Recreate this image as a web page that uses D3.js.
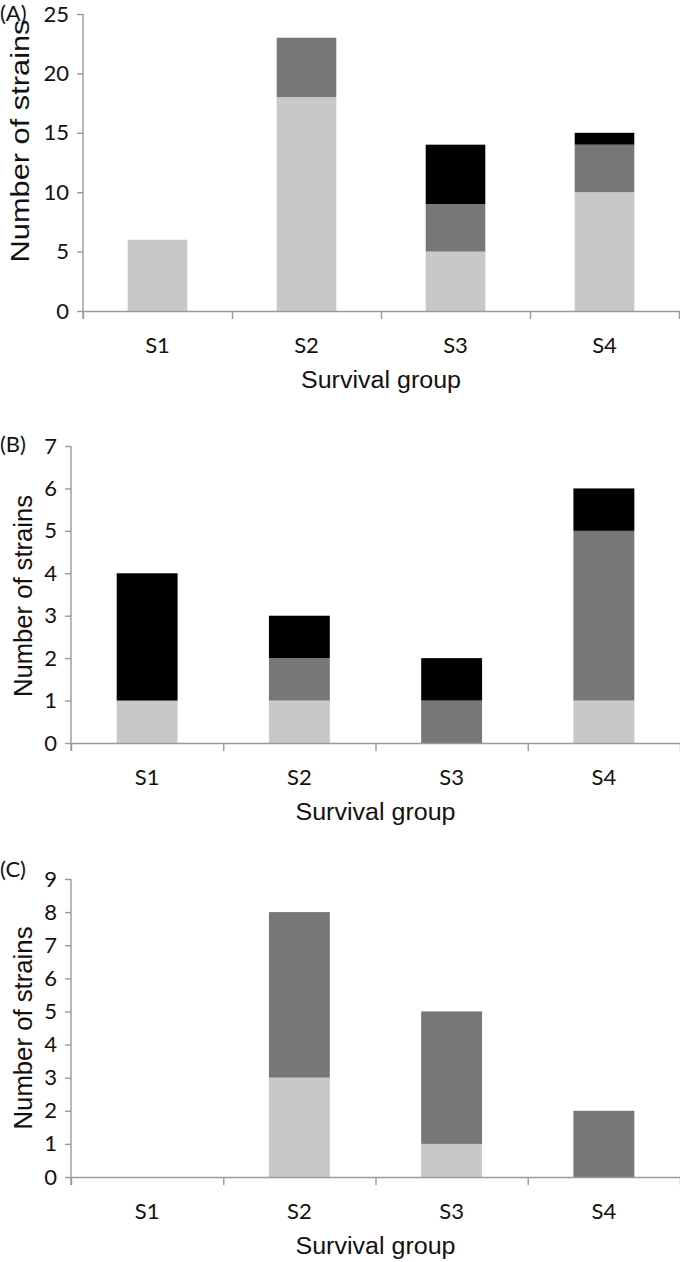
<!DOCTYPE html>
<html><head><meta charset="utf-8">
<script src="https://cdn.jsdelivr.net/npm/d3@7"></script>
<style>
html,body{margin:0;padding:0;background:#fff;}
svg{display:block;}
</style></head>
<body>
<svg id="chart" width="680" height="1262"></svg>
<script>
// ---- data ----
const categories = ["S1", "S2", "S3", "S4"];
const seriesKeys = ["light", "mid", "dark"];
const seriesColors = ["#c8c8c8", "#777777", "#000000"];

const panelA_light = [6, 18, 5, 10];
const panelA_mid   = [0, 5, 4, 4];
const panelA_dark  = [0, 0, 5, 1];
const panelA_ticks = [0, 5, 10, 15, 20, 25];

const panelB_light = [1, 1, 0, 1];
const panelB_mid   = [0, 1, 1, 4];
const panelB_dark  = [3, 1, 1, 1];
const panelB_ticks = [0, 1, 2, 3, 4, 5, 6, 7];

const panelC_light = [0, 3, 1, 0];
const panelC_mid   = [0, 5, 4, 2];
const panelC_dark  = [0, 0, 0, 0];
const panelC_ticks = [0, 1, 2, 3, 4, 5, 6, 7, 8, 9];

const xTitle = "Survival group";
const yTitle = "Number  of strains";

function rows(light, mid, dark) {
  return categories.map((c, i) => ({cat: c, light: light[i], mid: mid[i], dark: dark[i]}));
}

const panels = [
  {label: "(A)", data: rows(panelA_light, panelA_mid, panelA_dark), ticks: panelA_ticks,
   x0: 83, x1: 679, yTop: 14, yBot: 311, labelY: 21, yTitleX: 29, yTitleC: 141, yTitleLen: 243},
  {label: "(B)", data: rows(panelB_light, panelB_mid, panelB_dark), ticks: panelB_ticks,
   x0: 71, x1: 680, yTop: 446, yBot: 743, labelY: 452, yTitleX: 32, yTitleC: 596, yTitleLen: 202},
  {label: "(C)", data: rows(panelC_light, panelC_mid, panelC_dark), ticks: panelC_ticks,
   x0: 71, x1: 680, yTop: 879, yBot: 1177, labelY: 877, yTitleX: 32, yTitleC: 1028, yTitleLen: 203}
];

const svg = d3.select("#chart");
const axisColor = "#9a9a9a";
const tickFont = "Lato, 'Open Sans', sans-serif";
const titleFont = "'Liberation Sans', Arial, sans-serif";

panels.forEach(p => {
  const g = svg.append("g");
  const yMax = p.ticks[p.ticks.length - 1];
  const y = d3.scaleLinear().domain([0, yMax]).range([p.yBot, p.yTop]);
  const x = d3.scaleBand().domain(categories).range([p.x0, p.x1]).paddingInner(0.6).paddingOuter(0.3);
  const xb = d3.scaleLinear().domain([0, categories.length]).range([p.x0, p.x1]);

  const stacked = d3.stack().keys(seriesKeys)(p.data);
  stacked.forEach((layer, li) => {
    g.append("g").attr("fill", seriesColors[li])
      .selectAll("rect").data(layer.filter(d => d[1] - d[0] > 0)).join("rect")
      .attr("x", d => x(d.data.cat))
      .attr("width", x.bandwidth())
      .attr("y", d => y(d[1]))
      .attr("height", d => y(d[0]) - y(d[1]));
  });

  // y axis
  const ya = g.append("g").attr("transform", `translate(${p.x0},0)`)
    .call(d3.axisLeft(y).tickValues(p.ticks).tickSize(6).tickSizeOuter(0).tickPadding(8).tickFormat(d3.format("d")));
  ya.select(".domain").attr("stroke", axisColor).attr("stroke-width", 1.4)
    .attr("d", `M0,${p.yTop}V${p.yBot + 8}`);
  ya.selectAll(".tick line").attr("stroke", axisColor).attr("stroke-width", 1.4);
  ya.selectAll(".tick text").attr("fill", "#111").style("font-family", tickFont).style("font-size", "22px");

  // x axis boundary ticks
  const xa = g.append("g").attr("transform", `translate(0,${p.yBot})`)
    .call(d3.axisBottom(xb).tickValues(d3.range(categories.length + 1)).tickSize(8).tickSizeOuter(0).tickFormat(""));
  xa.select(".domain").attr("stroke", axisColor).attr("stroke-width", 1.4);
  xa.selectAll(".tick line").attr("stroke", axisColor).attr("stroke-width", 1.4);

  // category labels
  const xc = g.append("g").attr("transform", `translate(0,${p.yBot})`)
    .call(d3.axisBottom(x).tickSize(0).tickPadding(0));
  xc.select(".domain").remove();
  xc.selectAll(".tick text").attr("dy", null).attr("y", 42).attr("fill", "#111")
    .style("font-family", tickFont).style("font-size", "22px");

  // x title
  g.append("text").attr("x", (p.x0 + p.x1) / 2).attr("y", p.yBot + 77)
    .attr("text-anchor", "middle").attr("fill", "#111")
    .style("font-family", titleFont).style("font-size", "23px")
    .attr("textLength", 160).attr("lengthAdjust", "spacingAndGlyphs")
    .text(xTitle);

  // y title
  g.append("text").attr("transform", `translate(${p.yTitleX},${p.yTitleC}) rotate(-90)`)
    .attr("text-anchor", "middle").attr("fill", "#111")
    .style("font-family", titleFont).style("font-size", "25px")
    .attr("textLength", p.yTitleLen).attr("lengthAdjust", "spacingAndGlyphs")
    .text(yTitle);

  // panel label
  g.append("text").attr("x", 0).attr("y", p.labelY).attr("fill", "#111")
    .style("font-family", tickFont).style("font-size", "22px")
    .text(p.label);
});
</script>
</body></html>
